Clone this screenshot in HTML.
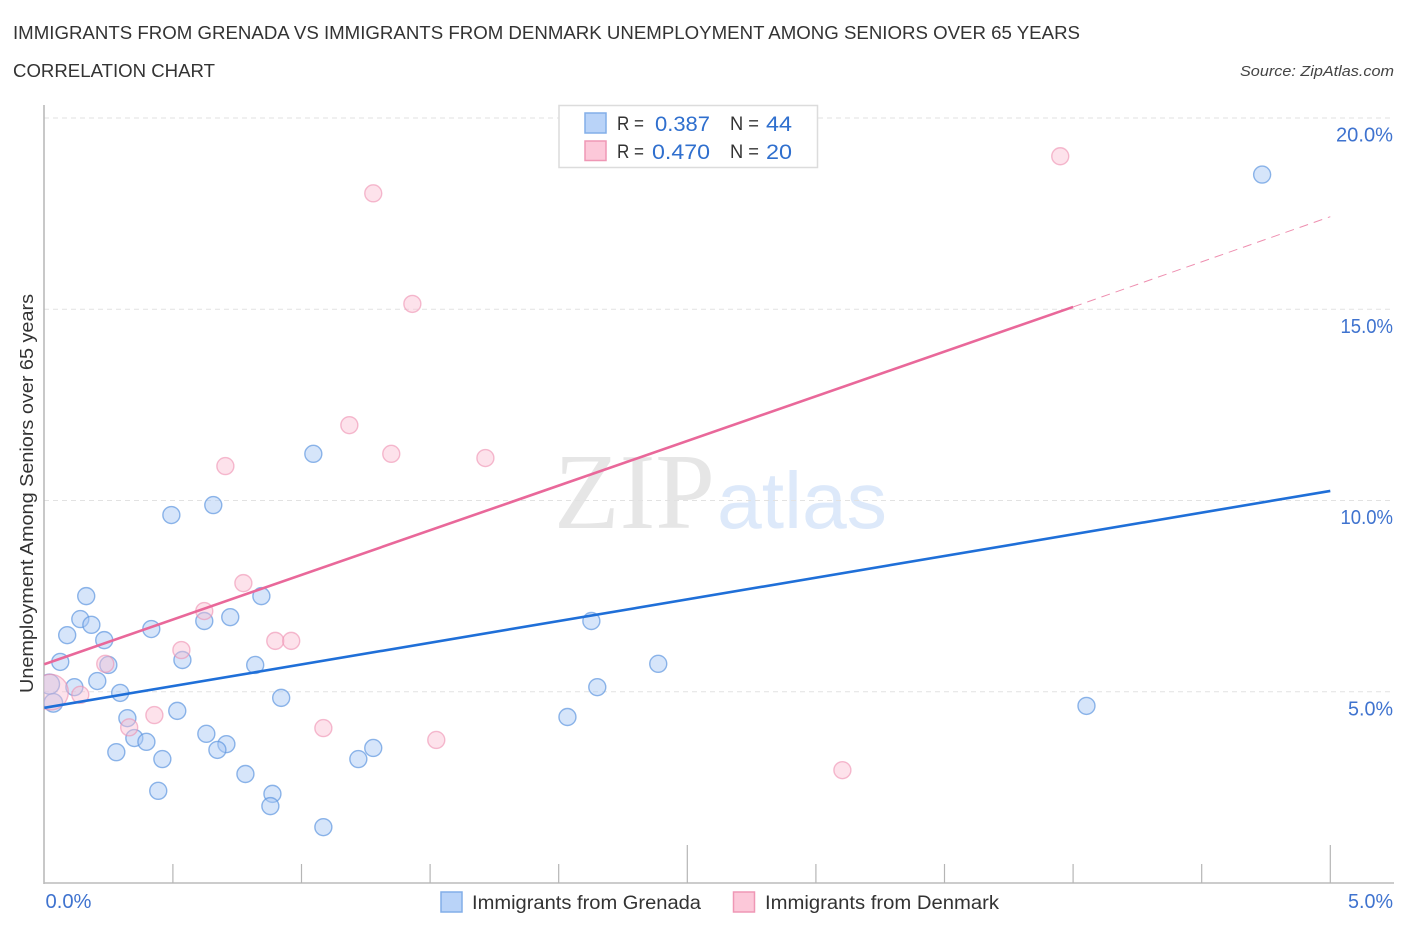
<!DOCTYPE html>
<html lang="en">
<head>
<meta charset="utf-8">
<title>Immigrants from Grenada vs Immigrants from Denmark Unemployment Among Seniors over 65 Years</title>
<style>
html,body{margin:0;padding:0;background:#fff;}
svg{display:block;}
text{font-family:"Liberation Sans",sans-serif;}
</style>
</head>
<body>
<svg id="chart" xmlns="http://www.w3.org/2000/svg" width="1406" height="930" viewBox="0 0 1406 930">
  <defs>
    <clipPath id="plot-clip"><rect x="44" y="100" width="1360" height="783"></rect></clipPath>
  </defs>
  <text x="13" y="39" font-size="18.5" fill="#333" textLength="1067" lengthAdjust="spacingAndGlyphs">IMMIGRANTS FROM GRENADA VS IMMIGRANTS FROM DENMARK UNEMPLOYMENT AMONG SENIORS OVER 65 YEARS</text>
  <text x="13" y="77" font-size="18.5" fill="#333" textLength="202" lengthAdjust="spacingAndGlyphs">CORRELATION CHART</text>
  <text x="1394" y="76" font-size="15" font-style="italic" fill="#444" text-anchor="end" textLength="154" lengthAdjust="spacingAndGlyphs">Source: ZipAtlas.com</text>

  <g>
    <text x="554" y="528" font-size="108" fill="#e6e6e6" textLength="161" lengthAdjust="spacingAndGlyphs" style="font-family:'Liberation Serif',serif">ZIP</text>
    <text x="717" y="528" font-size="80" fill="#dde9fa" textLength="170" lengthAdjust="spacingAndGlyphs">atlas</text>
  </g>

  <g id="grid"></g>
  <g id="axes"></g>
  <g id="points-blue" clip-path="url(#plot-clip)"></g>
  <g id="points-pink" clip-path="url(#plot-clip)"></g>
  <g id="trends"></g>
  <g id="labels"></g>

  <text transform="translate(33,693) rotate(-90)" font-size="18.5" fill="#333" textLength="399" lengthAdjust="spacingAndGlyphs">Unemployment Among Seniors over 65 years</text>

  <g>
    <rect x="559" y="105.500" width="258.500" height="62" fill="#fff" stroke="#dcdcdc" stroke-width="1.500"></rect>
    <rect x="585" y="113" width="21" height="20" fill="#b9d3f8" stroke="#82aee8" stroke-width="1.500"></rect>
    <rect x="585" y="141" width="21" height="19.500" fill="#fcc8d9" stroke="#ef97b5" stroke-width="1.500"></rect>
    <text x="617" y="130" font-size="19.500" fill="#333" textLength="27" lengthAdjust="spacingAndGlyphs">R =</text>
    <text x="655" y="131" font-size="21.500" fill="#2f6fce" textLength="55" lengthAdjust="spacingAndGlyphs">0.387</text>
    <text x="730" y="130" font-size="19.500" fill="#333" textLength="29" lengthAdjust="spacingAndGlyphs">N =</text>
    <text x="766" y="131" font-size="21.500" fill="#2f6fce" textLength="26" lengthAdjust="spacingAndGlyphs">44</text>
    <text x="617" y="158" font-size="19.500" fill="#333" textLength="27" lengthAdjust="spacingAndGlyphs">R =</text>
    <text x="652" y="159" font-size="21.500" fill="#2f6fce" textLength="58" lengthAdjust="spacingAndGlyphs">0.470</text>
    <text x="730" y="158" font-size="19.500" fill="#333" textLength="29" lengthAdjust="spacingAndGlyphs">N =</text>
    <text x="766" y="159" font-size="21.500" fill="#2f6fce" textLength="26" lengthAdjust="spacingAndGlyphs">20</text>
  </g>

  <g>
    <rect x="441" y="892" width="21" height="20" fill="#b9d3f8" stroke="#82aee8" stroke-width="1.500"></rect>
    <text x="472" y="909" font-size="19" fill="#333" textLength="229" lengthAdjust="spacingAndGlyphs">Immigrants from Grenada</text>
    <rect x="733.500" y="892" width="21" height="20" fill="#fcc8d9" stroke="#ef97b5" stroke-width="1.500"></rect>
    <text x="765" y="909" font-size="19" fill="#333" textLength="234" lengthAdjust="spacingAndGlyphs">Immigrants from Denmark</text>
  </g>
</svg>
<script>
// Chart data, all values in percent
const yTickValues = [5, 10, 15, 20];
const yTickLabels = ["5.0%", "10.0%", "15.0%", "20.0%"];
const xTickValues = [0.5, 1, 1.5, 2, 2.5, 3, 3.5, 4, 4.5, 5];
const xMajorTicks = [2.5, 5];
const xEndLabels = ["0.0%", "5.0%"];

const grenadaX = [4.735,1.046,0.657,0.494,0.163,0.844,0.140,0.183,0.089,0.723,0.622,0.416,0.233,2.127,0.062,0.249,0.537,0.820,2.387,0.206,0.117,0.295,2.150,0.921,0.020,0.035,0.517,0.323,2.034,4.052,0.630,0.350,0.397,0.708,0.673,0.280,0.459,1.221,1.279,0.782,0.443,0.887,0.879,1.085];
const grenadaY = [18.52,11.22,9.88,9.62,7.50,7.50,6.90,6.75,6.48,6.95,6.85,6.64,6.35,6.85,5.78,5.70,5.83,5.70,5.73,5.28,5.12,4.97,5.12,4.84,5.20,4.71,4.50,4.31,4.34,4.63,3.90,3.79,3.69,3.63,3.48,3.42,3.24,3.24,3.53,2.85,2.41,2.33,2.01,1.46];
const grenadaCounts = [1,1,1,1,1,1,1,1,1,1,1,1,1,1,1,1,1,1,1,1,1,1,1,1,1.4,1.2,1,1,1,1,1,1,1,1,1,1,1,1,1,1,1,1,1,1];

const denmarkX = [3.950,1.279,1.431,1.186,1.349,1.715,0.704,0.774,0.622,0.533,0.898,0.960,0.237,0.140,0.428,0.330,1.085,1.524,3.103,0.024];
const denmarkY = [19.00,18.03,15.14,11.97,11.22,11.11,10.90,7.84,7.11,6.09,6.33,6.33,5.73,4.92,4.39,4.07,4.05,3.74,2.95,4.99];
const denmarkCounts = [1,1,1,1,1,1,1,1,1,1,1,1,1,1,1,1,1,1,1,4.4];

const grenadaTrendX = [0, 5];
const grenadaTrendY = [4.58, 10.25];
const denmarkTrendX = [0, 4];
const denmarkTrendY = [5.72, 15.06];
const denmarkProjectionX = [4, 5];
const denmarkProjectionY = [15.06, 17.42];

// Axis functions
const xScale = function (v) { return 44.3 + v * 257.2; };
const yScale = function (v) { return 883 - v * 38.25; };
const radiusScale = function (n) { return 8.5 * Math.sqrt(n); };
const labelWidth = function (s) {
  let w = 0;
  for (const ch of s) { w += ch === "1" ? 7.5 : ch === "." ? 5 : ch === "%" ? 16 : 12; }
  return w;
};

const NS = "http://www.w3.org/2000/svg";
function make(tag, attrs, parent) {
  const el = document.createElementNS(NS, tag);
  Object.keys(attrs).forEach(function (k) { el.setAttribute(k, attrs[k]); });
  parent.appendChild(el);
  return el;
}

const grid = document.getElementById("grid");
const axes = document.getElementById("axes");
const labels = document.getElementById("labels");
const trends = document.getElementById("trends");
const blueGroup = document.getElementById("points-blue");
const pinkGroup = document.getElementById("points-pink");

yTickValues.forEach(function (v, i) {
  const g = make("line", { x1: 44, x2: 1393, y1: yScale(v), y2: yScale(v), stroke: "#e2e2e2", "stroke-width": 1, "stroke-dasharray": "5 4" }, grid);
  
  
  const t = make("text", { x: 1393, y: yScale(v) + 23.5, "font-size": 20, fill: "#3f73cf", "text-anchor": "end", textLength: labelWidth(yTickLabels[i]), lengthAdjust: "spacingAndGlyphs" }, labels);
  t.textContent = yTickLabels[i];
  
  
});

const yAxisLine = make("line", { x1: 44, x2: 44, y1: 105, y2: 884, stroke: "#b5b5b5", "stroke-width": 1.5 }, axes);


const xAxisLine = make("line", { x1: 44, x2: 1394, y1: 883, y2: 883, stroke: "#bcbcbc", "stroke-width": 1.5 }, axes);



xTickValues.forEach(function (v) {
  const top = xMajorTicks.indexOf(v) >= 0 ? 845 : 864;
  const tick = make("line", { x1: xScale(v), x2: xScale(v), y1: top, y2: 883, stroke: "#b5b5b5", "stroke-width": 1.2 }, axes);
  
  
});

const xLabelStart = make("text", { x: 45.5, y: 908, "font-size": 20, fill: "#3f73cf", textLength: 46, lengthAdjust: "spacingAndGlyphs" }, labels);
xLabelStart.textContent = xEndLabels[0];


const xLabelEnd = make("text", { x: 1393, y: 908, "font-size": 20, fill: "#3f73cf", "text-anchor": "end", textLength: labelWidth(xEndLabels[1]), lengthAdjust: "spacingAndGlyphs" }, labels);
xLabelEnd.textContent = xEndLabels[1];



grenadaX.forEach(function (x, i) {
  const c = make("circle", { cx: xScale(x), cy: yScale(grenadaY[i]), r: radiusScale(grenadaCounts[i]), fill: "#a9c9f5", "fill-opacity": 0.48, stroke: "#5f97e0", "stroke-opacity": 0.7, "stroke-width": 1.4 }, blueGroup);
  
  
});

denmarkX.forEach(function (x, i) {
  const c = make("circle", { cx: xScale(x), cy: yScale(denmarkY[i]), r: radiusScale(denmarkCounts[i]), fill: "#fbbfd2", "fill-opacity": 0.45, stroke: "#ee8fb0", "stroke-opacity": 0.6, "stroke-width": 1.4 }, pinkGroup);
  
  
});

const blueTrend = make("line", { x1: xScale(grenadaTrendX[0]), y1: yScale(grenadaTrendY[0]), x2: xScale(grenadaTrendX[1]), y2: yScale(grenadaTrendY[1]), stroke: "#1f6fd8", "stroke-width": 2.6 }, trends);


const pinkTrend = make("line", { x1: xScale(denmarkTrendX[0]), y1: yScale(denmarkTrendY[0]), x2: xScale(denmarkTrendX[1]), y2: yScale(denmarkTrendY[1]), stroke: "#e9689a", "stroke-width": 2.6 }, trends);


const pinkProjection = make("line", { x1: xScale(denmarkProjectionX[0]), y1: yScale(denmarkProjectionY[0]), x2: xScale(denmarkProjectionX[1]), y2: yScale(denmarkProjectionY[1]), stroke: "#ee8fb0", "stroke-width": 1, "stroke-dasharray": "9 6" }, trends);


</script>
</body>
</html>
